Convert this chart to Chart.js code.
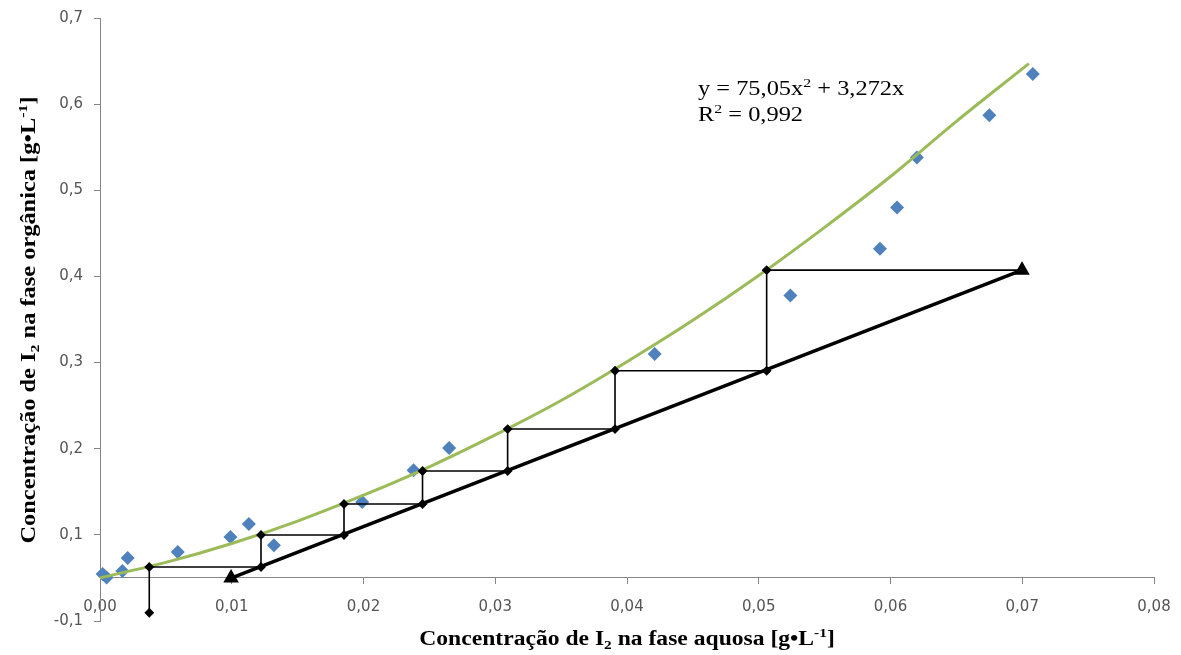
<!DOCTYPE html>
<html>
<head>
<meta charset="utf-8">
<script src="https://cdn.jsdelivr.net/npm/chart.js@4/dist/chart.umd.min.js"></script>
<style>
html,body{margin:0;padding:0;background:#fff;}
#wrap{width:1181px;height:655px;position:relative;}
</style>
</head>
<body>
<div id="wrap"><canvas id="c" width="1181" height="655"></canvas></div>
<script>
// Experimental points (displayed scale)
const expX = [0.0002,0.0005,0.0017,0.0021,0.0059,0.0099,0.0113,0.0132,0.0199,0.0238,0.0265,0.0421,0.0524,0.0592,0.0605,0.0620,0.0675,0.0708];
const expY = [0.0545,0.0505,0.058,0.073,0.080,0.0975,0.1126,0.088,0.138,0.175,0.2008,0.310,0.378,0.432,0.480,0.538,0.587,0.635];

// Green equilibrium (trendline) curve
const curveX = [0,0.005,0.01,0.015,0.02,0.025,0.03,0.035,0.04,0.045,0.05,0.055,0.06,0.065,0.0705];
const curveY = [0.050,0.068,0.090,0.116,0.146,0.179,0.216,0.256,0.301,0.349,0.401,0.457,0.516,0.580,0.647];

// Operating line (end points)
const opX = [0.00995,0.06998];
const opY = [0.0499,0.4073];

// Staircase construction
const stepX = [0.00374,0.00374,0.01222,0.01222,0.01852,0.01852,0.02448,0.02448,0.03094,0.03094,0.03909,0.03909,0.0506,0.0506,0.06996];
const stepY = [0.0096,0.0627,0.0627,0.0998,0.0998,0.1358,0.1358,0.1741,0.1741,0.2228,0.2228,0.2905,0.2905,0.4073,0.4073];

// Axis ticks
const xTicks = [0,0.01,0.02,0.03,0.04,0.05,0.06,0.07,0.08];
const yTicks = [0,0.1,0.2,0.3,0.4,0.5,0.6,0.7];
const yTickLabels = ['-0,1','0,1','0,2','0,3','0,4','0,5','0,6','0,7'];

const eqLine1 = [{t:'y = 75,05x'},{t:'2',sup:true},{t:' + 3,272x'}];
const eqLine2 = [{t:'R'},{t:'2',sup:true},{t:' = 0,992'}];
const xTitle = [{t:'Concentração de I'},{t:'2',sub:true},{t:' na fase aquosa [g•L'},{t:'-1',sup:true},{t:']'}];
const yTitle = [{t:'Concentração de I'},{t:'2',sub:true},{t:' na fase orgânica [g•L'},{t:'-1',sup:true},{t:']'}];

const pts = (xs, ys) => xs.map((x,i)=>({x:x,y:ys[i]}));

function richWidth(ctx, segs, size, weight){
  let w=0;
  segs.forEach(s=>{
    const fs = (s.sup||s.sub)? size*0.65 : size;
    ctx.font = weight+' '+fs+'px "Liberation Serif", "Times New Roman", serif';
    w += ctx.measureText(s.t).width;
  });
  return w;
}
function drawRich(ctx, segs, x, y, size, weight, sx){
  ctx.save();
  ctx.translate(x, y);
  ctx.scale(sx, 1);
  let cx = 0;
  segs.forEach(s=>{
    const fs = (s.sup||s.sub)? size*0.65 : size;
    ctx.font = weight+' '+fs+'px "Liberation Serif", "Times New Roman", serif';
    let dy = 0;
    if (s.sup) dy = -size*0.38;
    if (s.sub) dy = size*0.2;
    ctx.fillText(s.t, cx, dy);
    cx += ctx.measureText(s.t).width;
  });
  ctx.restore();
}

const textPlugin = {
  id:'textPlugin',
  afterDraw(chart){
    const ctx = chart.ctx;
    ctx.save();
    ctx.fillStyle = '#000';
    ctx.textBaseline = 'alphabetic';
    ctx.textAlign = 'left';
    // x title
    const xs = 20, xsx = 1.18;
    const xw = richWidth(ctx, xTitle, xs, 'bold') * xsx;
    drawRich(ctx, xTitle, 627 - xw/2, 645, xs, 'bold', xsx);
    // y title
    const ysx = 1.22;
    const yw = richWidth(ctx, yTitle, xs, 'bold') * ysx;
    ctx.save();
    ctx.translate(35, 320);
    ctx.rotate(-Math.PI/2);
    drawRich(ctx, yTitle, -yw/2, 0, xs, 'bold', ysx);
    ctx.restore();
    // equation
    drawRich(ctx, eqLine1, 698, 95, 20, 'normal', 1.22);
    drawRich(ctx, eqLine2, 698, 121, 20, 'normal', 1.22);
    ctx.restore();
  }
};

new Chart(document.getElementById('c'), {
  type:'scatter',
  data:{
    datasets:[
      {
        label:'Curva',
        data: pts(curveX, curveY),
        showLine:true,
        borderColor:'#9BBB59',
        borderWidth:3,
        pointRadius:0,
        cubicInterpolationMode:'monotone',
        order:3
      },
      {
        label:'Dados',
        data: pts(expX, expY),
        showLine:false,
        pointStyle:'rectRot',
        pointRadius:7,
        pointHoverRadius:7,
        backgroundColor:'#4F81BD',
        borderColor:'#4F81BD',
        borderWidth:0,
        order:4
      },
      {
        label:'Operação',
        data: pts(opX, opY),
        showLine:true,
        borderColor:'#000',
        borderWidth:3.5,
        pointStyle:'triangle',
        pointRadius:5.5,
        backgroundColor:'#000',
        pointBorderColor:'#000',
        order:2
      },
      {
        label:'Estágios',
        data: pts(stepX, stepY),
        showLine:true,
        borderColor:'#000',
        borderWidth:1.6,
        pointStyle:'rectRot',
        pointRadius: stepX.map((v,i)=> i===stepX.length-1 ? 0 : 3.8),
        backgroundColor:'#000',
        pointBorderColor:'#000',
        tension:0,
        order:1
      }
    ]
  },
  options:{
    responsive:false,
    animation:false,
    clip:false,
    layout:{padding:{left:0,right:27,top:18,bottom:34}},
    plugins:{legend:{display:false},tooltip:{enabled:false}},
    scales:{
      x:{
        type:'linear',
        min:0,max:0.08,
        position:{y:0.05},
        grid:{display:true,drawOnChartArea:false,drawTicks:true,tickLength:6,color:'#868686'},
        border:{display:true,color:'#868686',width:1},
        afterBuildTicks(scale){ scale.ticks = xTicks.map(v=>({value:v})); },
        afterFit(scale){ scale.paddingLeft = 0; scale.paddingRight = 0; },
        ticks:{
          color:'#555555',
          font:{family:'"DejaVu Sans", sans-serif',size:15},
          padding:14,
          maxRotation:0,
          autoSkip:false,
          callback:(v)=> v.toFixed(2).replace('.',',')
        }
      },
      y:{
        type:'linear',
        min:0,max:0.7,
        position:'left',
        grid:{display:true,drawOnChartArea:false,drawTicks:true,tickLength:6,color:'#868686'},
        border:{display:true,color:'#868686',width:1},
        afterBuildTicks(scale){ scale.ticks = yTicks.map(v=>({value:v})); },
        afterFit(scale){ scale.width = 100; scale.paddingTop = 0; scale.paddingBottom = 0; },
        ticks:{
          color:'#555555',
          font:{family:'"DejaVu Sans", sans-serif',size:15},
          padding:11,
          autoSkip:false,
          callback:(v)=>{ const i = yTicks.findIndex(t=>Math.abs(t-v)<1e-9); return i>=0 ? yTickLabels[i] : ''; }
        }
      }
    }
  },
  plugins:[textPlugin]
});
</script>
</body>
</html>
